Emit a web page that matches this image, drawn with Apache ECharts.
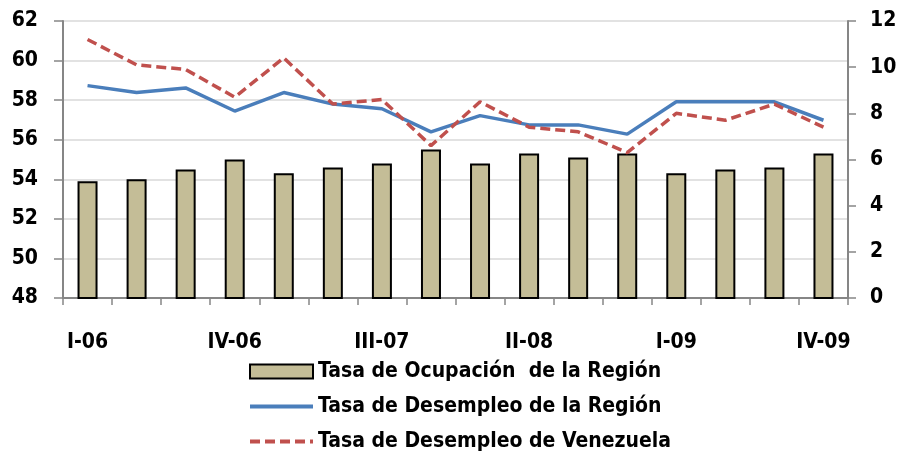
<!DOCTYPE html>
<html>
<head>
<meta charset="utf-8">
<style>
  * { margin: 0; padding: 0; }
  body { background: #ffffff; }
  #chart { width: 901px; height: 452px; }
</style>
</head>
<body>
<div id="chart"></div>
<script src="https://cdn.jsdelivr.net/npm/echarts@6/dist/echarts.min.js"></script>
<script>
// trimestres
var quarters = ['I-06', 'II-06', 'III-06', 'IV-06', 'I-07', 'II-07', 'III-07', 'IV-07',
                'I-08', 'II-08', 'III-08', 'IV-08', 'I-09', 'II-09', 'III-09', 'IV-09'];

// Tasa de Ocupación de la Región (eje izquierdo)
var ocupacionRegion = [53.9, 54.0, 54.5, 55.0, 54.3, 54.6, 54.8, 55.5,
                       54.8, 55.3, 55.1, 55.3, 54.3, 54.5, 54.6, 55.3];

// Tasa de Desempleo de la Región (eje derecho)
var desempleoRegion = [9.2, 8.9, 9.1, 8.1, 8.9, 8.4, 8.2, 7.2,
                       7.9, 7.5, 7.5, 7.1, 8.5, 8.5, 8.5, 7.7];

// Tasa de Desempleo de Venezuela (eje derecho)
var desempleoVenezuela = [11.2, 10.1, 9.9, 8.7, 10.4, 8.4, 8.6, 6.6,
                          8.5, 7.4, 7.2, 6.3, 8.0, 7.7, 8.4, 7.4];

var serieNames = ['Tasa de Ocupación  de la Región', 'Tasa de Desempleo de la Región', 'Tasa de Desempleo de Venezuela'];

var FONT = '"Liberation Sans Narrow", "DejaVu Sans Condensed", "Liberation Sans", sans-serif';
var axisGray = '#868686';
var labelStyle = { fontFamily: FONT, fontSize: 21, fontWeight: 'bold', color: '#000' };

var chart = echarts.init(document.getElementById('chart'));

var option = {
  backgroundColor: '#ffffff',
  animation: false,
  textStyle: { fontFamily: FONT },
  grid: { left: 63, right: 53, top: 21, bottom: 154 },
  legend: {
    orient: 'vertical',
    left: 243,
    top: 356,
    height: 120,
    itemWidth: 63,
    itemHeight: 14,
    itemGap: 14,
    textStyle: labelStyle,
    data: [
      { name: serieNames[0], icon: 'rect' },
      { name: serieNames[1], itemStyle: { opacity: 0 }, lineStyle: { width: 4 } },
      { name: serieNames[2], itemStyle: { opacity: 0 }, lineStyle: { width: 4 } }
    ]
  },
  xAxis: {
    type: 'category',
    data: quarters,
    boundaryGap: true,
    axisLine: { lineStyle: { color: axisGray, width: 2 } },
    axisTick: { show: true, alignWithLabel: false, interval: 0, length: 7, lineStyle: { color: axisGray, width: 1.5 } },
    axisLabel: Object.assign({ interval: 2, margin: 34 }, labelStyle),
    splitLine: { show: false }
  },
  yAxis: [
    {
      type: 'value',
      min: 48,
      max: 62,
      interval: 2,
      position: 'left',
      axisLine: { show: true, lineStyle: { color: axisGray, width: 2 } },
      axisTick: { show: true, length: 9, lineStyle: { color: axisGray, width: 1.5 } },
      axisLabel: Object.assign({ margin: 25 }, labelStyle),
      splitLine: { show: true, lineStyle: { color: '#d9d9d9', width: 1.5 } }
    },
    {
      type: 'value',
      min: 0,
      max: 12,
      interval: 2,
      position: 'right',
      axisLine: { show: true, lineStyle: { color: axisGray, width: 2 } },
      axisTick: { show: true, length: 8, lineStyle: { color: axisGray, width: 1.5 } },
      axisLabel: Object.assign({ margin: 22 }, labelStyle),
      splitLine: { show: false }
    }
  ],
  series: [
    {
      name: serieNames[0],
      type: 'bar',
      yAxisIndex: 0,
      data: ocupacionRegion,
      barWidth: 20,
      itemStyle: { color: '#c4bd97', borderColor: '#000', borderWidth: 2 }
    },
    {
      name: serieNames[1],
      type: 'line',
      yAxisIndex: 1,
      data: desempleoRegion,
      symbol: 'none',
      lineStyle: { color: '#4a7ebb', width: 3.5 },
      itemStyle: { color: '#4a7ebb' }
    },
    {
      name: serieNames[2],
      type: 'line',
      yAxisIndex: 1,
      data: desempleoVenezuela,
      symbol: 'none',
      lineStyle: { color: '#c0504d', width: 3.5, type: [10, 5] },
      itemStyle: { color: '#c0504d' }
    }
  ]
};

chart.setOption(option);
</script>
</body>
</html>
